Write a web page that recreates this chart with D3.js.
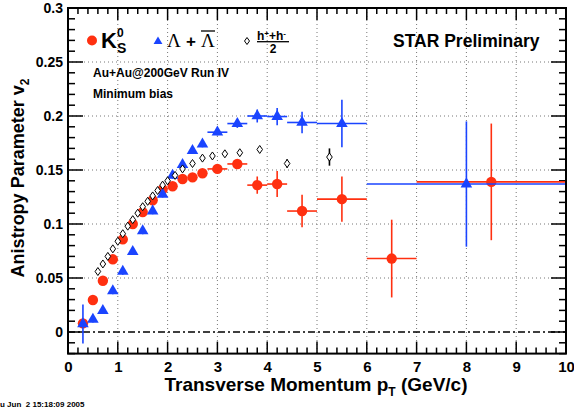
<!DOCTYPE html>
<html>
<head>
<meta charset="utf-8">
<script src="https://cdn.jsdelivr.net/npm/d3@7"></script>
<style>
  body { margin: 0; background: #fff; }
  svg { display: block; font-family: "Liberation Sans", Arial, sans-serif; font-weight: bold; }
</style>
</head>
<body>
<svg width="574" height="410"></svg>
<script>
// **** Data
// K0s
const k0Pt = [0.3, 0.5, 0.7, 0.9, 1.1, 1.3, 1.5, 1.7, 1.9, 2.1, 2.3, 2.5, 2.7, 3.0, 3.4, 3.8, 4.2, 4.7, 5.5, 6.5, 8.5];
const k0V  = [0.0080, 0.0296, 0.0475, 0.0673, 0.0858, 0.100, 0.111, 0.122, 0.132, 0.135, 0.1417, 0.1432, 0.147, 0.151, 0.1556, 0.136, 0.137, 0.112, 0.123, 0.068, 0.139];
const k0Ey = [0.002, 0.002, 0.002, 0.002, 0.002, 0.002, 0.002, 0.002, 0.002, 0.002, 0.002, 0.002, 0.003, 0.003, 0.004, 0.008, 0.012, 0.015, 0.021, 0.036, 0.054];
const k0Ex = [0, 0, 0, 0, 0, 0, 0, 0, 0, 0, 0, 0, 0, 0.2, 0.2, 0.2, 0.2, 0.3, 0.5, 0.5, 1.5];
// Lambda + anti-Lambda
const laPt = [0.3, 0.5, 0.7, 0.9, 1.1, 1.3, 1.5, 1.7, 1.9, 2.1, 2.3, 2.5, 2.7, 3.0, 3.4, 3.8, 4.2, 4.7, 5.5, 8.0];
const laV  = [0.0074, 0.0117, 0.0198, 0.038, 0.056, 0.0744, 0.0935, 0.112, 0.1275, 0.145, 0.155, 0.168, 0.174, 0.185, 0.193, 0.200, 0.1995, 0.194, 0.193, 0.137];
const laEy = [0.018, 0.003, 0.003, 0.003, 0.003, 0.003, 0.003, 0.003, 0.003, 0.003, 0.003, 0.003, 0.003, 0.003, 0.004, 0.006, 0.008, 0.010, 0.022, 0.058];
const laEx = [0, 0, 0, 0, 0, 0, 0, 0, 0, 0, 0, 0, 0, 0.2, 0.2, 0.2, 0.2, 0.3, 0.5, 2.0];
// (h+ + h-)/2
const hPt = [0.6, 0.7, 0.8, 0.9, 1.0, 1.1, 1.2, 1.3, 1.4, 1.5, 1.6, 1.7, 1.8, 1.9, 2.0, 2.15, 2.3, 2.5, 2.7, 2.9, 3.15, 3.45, 3.85, 4.4, 5.25];
const hV  = [0.056, 0.063, 0.070, 0.077, 0.084, 0.091, 0.098, 0.104, 0.110, 0.116, 0.121, 0.126, 0.131, 0.136, 0.140, 0.145, 0.151, 0.156, 0.161, 0.163, 0.165, 0.166, 0.169, 0.156, 0.162];
const hEy = [0.001, 0.001, 0.001, 0.001, 0.001, 0.001, 0.001, 0.001, 0.001, 0.001, 0.001, 0.001, 0.001, 0.001, 0.001, 0.001, 0.001, 0.001, 0.001, 0.001, 0.001, 0.001, 0.002, 0.004, 0.008];

const xTicks = [0, 1, 2, 3, 4, 5, 6, 7, 8, 9, 10];
const yTicks = [0, 0.05, 0.1, 0.15, 0.2, 0.25, 0.3];

const red = "#ff3010";
const blue = "#1a44ff";

// **** Scales
const svg = d3.select("svg");
const pLeft = 68, pRight = 566, pTop = 8, pBottom = 353.6;
const x = d3.scaleLinear().domain([0, 10]).range([pLeft, pRight]);
const y = d3.scaleLinear().domain([-0.02, 0.3]).range([pBottom, pTop]);

// **** Grid
const grid = svg.append("g").attr("stroke", "#777").attr("stroke-width", 1).attr("stroke-dasharray", "1,3");
grid.selectAll(".gx").data(xTicks.slice(1, -1)).join("line")
  .attr("x1", d => x(d)).attr("x2", d => x(d)).attr("y1", pTop).attr("y2", pBottom);
grid.selectAll(".gy").data(yTicks.slice(1, -1)).join("line")
  .attr("x1", pLeft).attr("x2", pRight).attr("y1", d => y(d)).attr("y2", d => y(d));

// zero line
svg.append("line")
  .attr("x1", pLeft).attr("x2", pRight).attr("y1", y(0)).attr("y2", y(0))
  .attr("stroke", "#000").attr("stroke-width", 1.5).attr("stroke-dasharray", "7,3,2,3");

// **** Ticks (inside the frame, all four sides)
const ticks = svg.append("g").attr("stroke", "#000").attr("stroke-width", 1.5);
const xMinor = d3.range(0, 50).map(i => i * 0.2);
const yMinor = d3.range(-2, 31).map(i => i * 0.01);
xMinor.forEach(v => {
  const len = Math.abs(v - Math.round(v)) < 1e-6 ? 12 : 6;
  ticks.append("line").attr("x1", x(v)).attr("x2", x(v)).attr("y1", pBottom).attr("y2", pBottom - len);
  ticks.append("line").attr("x1", x(v)).attr("x2", x(v)).attr("y1", pTop).attr("y2", pTop + len);
});
yMinor.forEach(v => {
  const major = Math.abs(v / 0.05 - Math.round(v / 0.05)) < 1e-6;
  const len = major ? 15 : 7;
  ticks.append("line").attr("x1", pLeft).attr("x2", pLeft + len).attr("y1", y(v)).attr("y2", y(v));
  ticks.append("line").attr("x1", pRight).attr("x2", pRight - len).attr("y1", y(v)).attr("y2", y(v));
});

// **** Tick labels
const xAxis = svg.append("g").attr("transform", `translate(0,${pBottom})`)
  .call(d3.axisBottom(x).tickValues(xTicks).tickSize(0).tickPadding(8).tickFormat(d3.format("d")));
xAxis.select(".domain").remove();
xAxis.selectAll("text").attr("font-size", 15).attr("font-weight", "bold").attr("font-family", "Liberation Sans, Arial, sans-serif").attr("fill", "#000");

const yAxis = svg.append("g").attr("transform", `translate(${pLeft},0)`)
  .call(d3.axisLeft(y).tickValues(yTicks).tickSize(0).tickPadding(5).tickFormat(d => String(+d.toFixed(2))));
yAxis.select(".domain").remove();
yAxis.selectAll("text").attr("font-size", 14).attr("font-weight", "bold").attr("font-family", "Liberation Sans, Arial, sans-serif").attr("fill", "#000");

// **** Data marks
function errorBars(g, pts, vs, eys, exs, color) {
  const rows = pts.map((p, i) => ({ p, v: vs[i], ey: eys[i], ex: exs ? exs[i] : 0 }));
  g.selectAll(null).data(rows).join("line")
    .attr("x1", d => x(d.p)).attr("x2", d => x(d.p))
    .attr("y1", d => y(d.v - d.ey)).attr("y2", d => y(d.v + d.ey))
    .attr("stroke", color).attr("stroke-width", 1.6);
  g.selectAll(null).data(rows.filter(d => d.ex > 0)).join("line")
    .attr("x1", d => x(d.p - d.ex)).attr("x2", d => x(d.p + d.ex))
    .attr("y1", d => y(d.v)).attr("y2", d => y(d.v))
    .attr("stroke", color).attr("stroke-width", 1.6);
  return rows;
}

// K0s circles
const gK = svg.append("g");
const kRows = errorBars(gK, k0Pt, k0V, k0Ey, k0Ex, red);
gK.selectAll("circle").data(kRows).join("circle")
  .attr("cx", d => x(d.p)).attr("cy", d => y(d.v)).attr("r", 5.2).attr("fill", red);

// Lambda triangles
const tri = d3.symbol().type(d3.symbolTriangle).size(58);
const gL = svg.append("g");
const lRows = errorBars(gL, laPt, laV, laEy, laEx, blue);
gL.selectAll("path.m").data(lRows).join("path").attr("class", "m")
  .attr("d", tri).attr("transform", d => `translate(${x(d.p)},${y(d.v)})`).attr("fill", blue);

// hadron open diamonds
const gH = svg.append("g");
const hRows = errorBars(gH, hPt, hV, hEy, null, "#000");
gH.selectAll("path.m").data(hRows).join("path").attr("class", "m")
  .attr("d", "M0,-4L2.8,0L0,4L-2.8,0Z")
  .attr("transform", d => `translate(${x(d.p)},${y(d.v)})`)
  .attr("fill", "#fff").attr("stroke", "#000").attr("stroke-width", 1);

// **** Frame
svg.append("rect").attr("x", pLeft).attr("y", pTop).attr("width", pRight - pLeft).attr("height", pBottom - pTop)
  .attr("fill", "none").attr("stroke", "#000").attr("stroke-width", 2);

// **** Legend
svg.append("circle").attr("cx", 92).attr("cy", 40.5).attr("r", 5).attr("fill", red);
svg.append("text").attr("x", 101).attr("y", 48).attr("font-size", 22).text("K");
svg.append("text").attr("x", 117).attr("y", 37).attr("font-size", 12).text("0");
svg.append("text").attr("x", 117).attr("y", 53).attr("font-size", 14).text("S");

svg.append("path").attr("d", d3.symbol().type(d3.symbolTriangle).size(34))
  .attr("transform", "translate(158,41.5)").attr("fill", blue);
svg.append("text").attr("x", 167).attr("y", 47).attr("font-size", 19).attr("font-weight", "normal")
  .attr("font-family", "Liberation Serif, serif").text("Λ");
svg.append("text").attr("x", 186).attr("y", 47).attr("font-size", 17).text("+");
svg.append("text").attr("x", 201).attr("y", 47).attr("font-size", 19).attr("font-weight", "normal")
  .attr("font-family", "Liberation Serif, serif").text("Λ");
svg.append("line").attr("x1", 201).attr("x2", 215).attr("y1", 31).attr("y2", 31).attr("stroke", "#000").attr("stroke-width", 1.3);

svg.append("path").attr("d", "M0,-3.5L2.5,0L0,3.5L-2.5,0Z").attr("transform", "translate(247,41)")
  .attr("fill", "#fff").attr("stroke", "#000").attr("stroke-width", 1);
svg.append("text").attr("x", 257).attr("y", 39.5).attr("font-size", 12)
  .html('h<tspan dy="-4" font-size="8">+</tspan><tspan dy="4">+h</tspan><tspan dy="-4" font-size="8">-</tspan>');
svg.append("line").attr("x1", 257).attr("x2", 289).attr("y1", 41.7).attr("y2", 41.7).attr("stroke", "#000").attr("stroke-width", 1.3);
svg.append("text").attr("x", 273).attr("y", 53).attr("font-size", 12).attr("text-anchor", "middle").text("2");

svg.append("text").attr("x", 393).attr("y", 47).attr("font-size", 17.5).text("STAR Preliminary");
svg.append("text").attr("x", 93).attr("y", 77).attr("font-size", 12).text("Au+Au@200GeV Run IV");
svg.append("text").attr("x", 93).attr("y", 98).attr("font-size", 12).text("Minimum bias");

// **** Axis titles
svg.append("text").attr("transform", "translate(24,178) rotate(-90)").attr("text-anchor", "middle")
  .attr("font-size", 18)
  .html('Anistropy Parameter v<tspan dy="5" font-size="12">2</tspan>');
svg.append("text").attr("x", 316).attr("y", 391).attr("text-anchor", "middle").attr("font-size", 19)
  .html('Transverse Momentum p<tspan dy="5" font-size="12">T</tspan><tspan dy="-5"> (GeV/c)</tspan>');

// time stamp (left part is cut off in the original)
svg.append("text").attr("x", 0).attr("y", 407).attr("font-size", 8).attr("xml:space", "preserve")
  .style("white-space", "pre").text("u Jun  2 15:18:09 2005");
</script>
</body>
</html>
